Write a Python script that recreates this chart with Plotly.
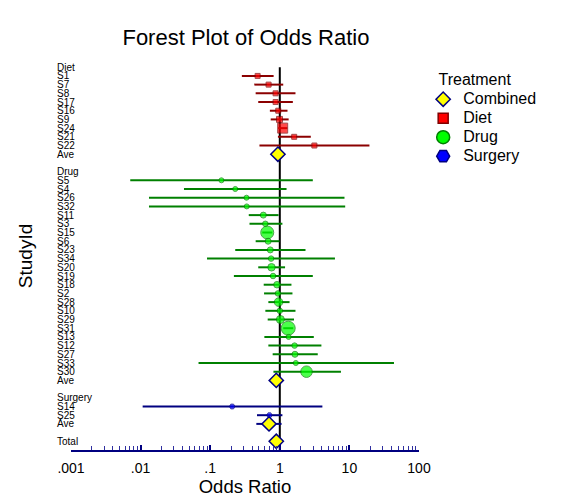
import plotly.graph_objects as go

# ---------------- data ----------------
group_names = ["Diet", "Drug", "Surgery"]

diet_study = ["S1", "S7", "S8", "S17", "S16", "S9", "S24", "S21", "S22"]
diet_or = [0.48, 0.69, 0.87, 0.87, 0.95, 0.99, 1.10, 1.61, 3.14]
diet_lo = [0.285, 0.43, 0.45, 0.49, 0.72, 0.74, 0.95, 0.94, 0.51]
diet_hi = [0.815, 1.12, 1.68, 1.54, 1.29, 1.34, 1.28, 2.79, 19.4]
diet_wt = [5, 5, 5, 5, 5, 6, 10, 5, 5]

drug_study = ["S5", "S4", "S26", "S32", "S11", "S3", "S15", "S6", "S23", "S34", "S20", "S19",
              "S18", "S2", "S28", "S10", "S29", "S31", "S13", "S12", "S27", "S33", "S30"]
drug_or = [0.145, 0.229, 0.332, 0.335, 0.58, 0.62, 0.66, 0.68, 0.73, 0.75, 0.76, 0.80,
           0.91, 0.94, 0.96, 1.00, 1.02, 1.32, 1.34, 1.63, 1.65, 1.70, 2.42]
drug_lo = [0.0071, 0.042, 0.0132, 0.0132, 0.358, 0.367, 0.56, 0.45, 0.229, 0.09, 0.49, 0.219,
           0.587, 0.594, 0.685, 0.62, 0.67, 1.12, 0.60, 0.685, 0.79, 0.068, 0.81]
drug_hi = [2.98, 1.25, 8.5, 8.7, 0.96, 1.09, 0.78, 0.99, 2.34, 6.2, 1.19, 2.98,
           1.47, 1.52, 1.38, 1.68, 1.60, 1.56, 3.08, 3.96, 3.51, 43.7, 7.56]
drug_wt = [5, 5, 5, 5, 6, 5.5, 13, 6, 6, 5.5, 7.5, 5.5, 6.5, 5.5, 8.5, 5.5, 8, 14, 5, 5.5, 6, 5, 11.5]

surgery_study = ["S14", "S25"]
surgery_or = [0.207, 0.71]
surgery_lo = [0.0107, 0.47]
surgery_hi = [4.09, 1.09]
surgery_wt = [5.5, 5.5]

ave_or = [0.94, 0.89, 0.70]
ave_lo = [0.87, 0.83, 0.46]
ave_hi = [1.02, 0.96, 1.06]

total_or = 0.89
total_lo = 0.85
total_hi = 0.94

x_tickvals = [0.001, 0.01, 0.1, 1, 10, 100]
x_ticktext = [".001", ".01", ".1", "1", "10", "100"]

# ---------------- styles ----------------
FONT = "Liberation Sans, Arial, sans-serif"
NAVY = "#000080"
styles = {
    "Diet": dict(symbol="square", fill="#ff0000", edge="#800000", line="#8b0000"),
    "Drug": dict(symbol="circle", fill="#00ff00", edge="#007f00", line="#008000"),
    "Surgery": dict(symbol="hexagon2", fill="#0000ff", edge="#000080", line="#000080"),
}
combined = dict(symbol="diamond", fill="#ffff00", edge=NAVY)

groups = [
    ("Diet", diet_study, diet_or, diet_lo, diet_hi, diet_wt),
    ("Drug", drug_study, drug_or, drug_lo, drug_hi, drug_wt),
    ("Surgery", surgery_study, surgery_or, surgery_lo, surgery_hi, surgery_wt),
]

fig = go.Figure()
row_labels = []


def err(ors, los, his):
    return dict(type="data", symmetric=False,
                array=[h - o for o, h in zip(ors, his)],
                arrayminus=[o - l for o, l in zip(ors, los)])


for gi, (name, studies, ors, los, his, wts) in enumerate(groups):
    st = styles[name]
    row_labels.append(name)
    ys = []
    for s in studies:
        row_labels.append(s)
        ys.append(len(row_labels) - 1)
    fig.add_trace(go.Scatter(
        x=ors, y=ys, mode="markers", showlegend=False, name=name, text=studies,
        marker=dict(symbol=st["symbol"], size=wts, color=st["fill"],
                    line=dict(color=st["edge"], width=1)),
        error_x=dict(**err(ors, los, his), color=st["line"], thickness=2, width=0),
    ))
    row_labels.append("Ave")
    ay = len(row_labels) - 1
    fig.add_trace(go.Scatter(
        x=[ave_or[gi]], y=[ay], mode="markers", showlegend=False, name="Ave",
        marker=dict(symbol=combined["symbol"], size=11, color=combined["fill"],
                    line=dict(color=combined["edge"], width=1.5)),
        error_x=dict(**err([ave_or[gi]], [ave_lo[gi]], [ave_hi[gi]]),
                     color=st["line"], thickness=2, width=0),
    ))
    row_labels.append("")

row_labels.append("Total")
ty = len(row_labels) - 1
fig.add_trace(go.Scatter(
    x=[total_or], y=[ty], mode="markers", showlegend=False, name="Total",
    marker=dict(symbol=combined["symbol"], size=11, color=combined["fill"],
                line=dict(color=combined["edge"], width=1.5)),
    error_x=dict(**err([total_or], [total_lo], [total_hi]), color=NAVY, thickness=2, width=0),
))

# legend entries
leg = [("Combined", combined, 11), ("Diet", styles["Diet"], 10),
       ("Drug", styles["Drug"], 13), ("Surgery", styles["Surgery"], 13)]
for nm, st, sz in leg:
    fig.add_trace(go.Scatter(
        x=[None], y=[None], mode="markers",
        name='<span style="font-size:16px">%s</span>' % nm,
        marker=dict(symbol=st["symbol"], size=sz, color=st["fill"],
                    line=dict(color=st["edge"], width=1.5)),
    ))

n_rows = len(row_labels)

# vertical reference line at OR = 1
fig.add_shape(type="line", xref="x", yref="y", x0=1, x1=1, y0=0, y1=n_rows,
              line=dict(color="black", width=2), layer="below")

# row labels (left aligned)
for i, lab in enumerate(row_labels):
    if lab:
        fig.add_annotation(text=lab, xref="paper", yref="y", x=-0.045, y=i,
                           xanchor="left", yanchor="middle", showarrow=False,
                           font=dict(family=FONT, size=10, color="black"))

minor_vals = [m * 10 ** e for e in range(-3, 2) for m in range(2, 10)]

fig.update_layout(
    width=568, height=498,
    margin=dict(l=71, r=149, t=62, b=48, autoexpand=False),
    paper_bgcolor="white", plot_bgcolor="white",
    font=dict(family=FONT, color="black"),
    title=dict(text="Forest Plot of Odds Ratio", x=0.433, y=0.926, xanchor="center",
               yanchor="middle", font=dict(size=22, family=FONT, color="black")),
    xaxis=dict(type="log", range=[-3, 2], tickmode="array", tickvals=x_tickvals,
               ticktext=x_ticktext, showline=True, linecolor=NAVY, linewidth=2,
               ticks="inside", ticklen=5, tickwidth=1.5, tickcolor=NAVY,
               tickfont=dict(size=14, family=FONT), showgrid=False, zeroline=False,
               ticklabelstandoff=4,
               minor=dict(tickmode="array", tickvals=minor_vals, ticks="inside",
                          ticklen=4, tickwidth=1.2, tickcolor="#3030a0", showgrid=False),
               title=dict(text="Odds Ratio", font=dict(size=18.5, family=FONT), standoff=4)),
    yaxis=dict(range=[n_rows, -0.6], showticklabels=False, ticks="", showline=False,
               showgrid=False, zeroline=False,
               title=dict(text="StudyId", font=dict(size=19, family=FONT), standoff=32)),
    legend=dict(x=1.012, y=0.995, xanchor="left", yanchor="top",
                font=dict(size=12, family=FONT), bgcolor="rgba(0,0,0,0)",
                title=dict(text="&nbsp;&nbsp;&nbsp;Treatment", font=dict(size=16, family=FONT)),
                tracegroupgap=0, itemsizing="trace"),
)

fig.write_html("out.html", config={"displayModeBar": False},
               post_script="document.body.style.margin='0';")
